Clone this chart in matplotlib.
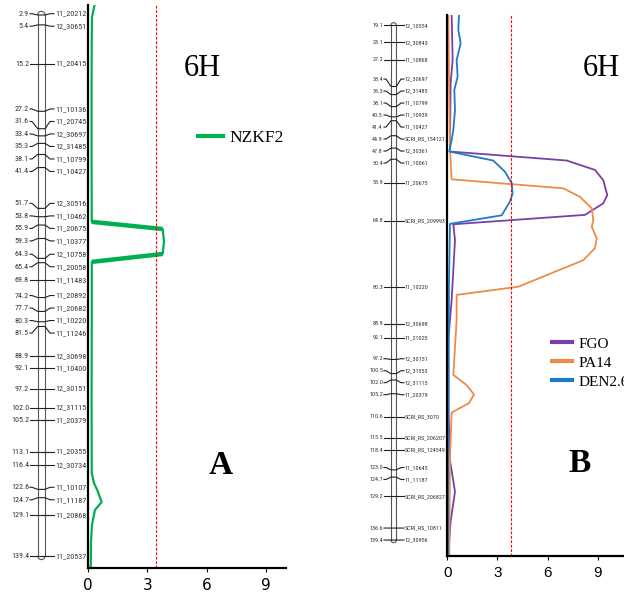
import matplotlib
matplotlib.use('Agg')
import matplotlib.pyplot as plt
from matplotlib.patches import Arc

# ---- panel A data (6H, NZKF2) ----
pos_A = [2.9, 5.4, 15.2, 27.2, 31.6, 33.4, 35.3, 38.1, 41.4, 51.7, 53.8, 55.9, 59.3,
         64.3, 65.4, 69.8, 74.2, 77.7, 80.3, 81.5, 88.9, 92.1, 97.2, 102.0, 105.2,
         113.1, 116.4, 122.6, 124.7, 129.1, 139.4]
names_A = ['11_20212', '12_30651', '11_20415', '11_10136', '11_20745', '12_30697',
           '12_31485', '11_10799', '11_10427', '12_30516', '11_10462', '11_20675',
           '11_10377', '12_10758', '11_20058', '11_11483', '11_20892', '11_20682',
           '11_10220', '11_11246', '12_30698', '11_10400', '12_30151', '12_31115',
           '11_20379', '11_20355', '12_30734', '11_10107', '11_11187', '11_20868',
           '11_20537']
nzkf2_cM = [0.4, 3.5, 8, 20, 40, 55.1, 56.9, 60.1, 63.2, 65.2, 80, 100, 118.5,
            121, 122.8, 125.8, 127.8, 131.6, 136, 142.4]
nzkf2_lod = [0.33, 0.2, 0.19, 0.18, 0.18, 0.19, 3.77, 3.84, 3.77, 0.19, 0.19, 0.18,
             0.19, 0.3, 0.47, 0.69, 0.35, 0.2, 0.15, 0.14]
thr_A = 3.43

# ---- panel B data (6H, FGO / PA14 / DEN2.6) ----
pos_B = [19.1, 23.1, 27.2, 33.4, 35.3, 38.1, 40.5, 41.4, 44.9, 47.8, 50.4, 55.9, 64.8,
         80.3, 88.9, 92.1, 97.2, 100.5, 102.0, 105.2, 110.6, 115.5, 118.4, 123.0,
         124.7, 129.2, 136.6, 139.4]
names_B = ['12_10554', '12_30843', '11_10868', '12_30697', '12_31485', '11_10799',
           '11_10939', '11_10427', 'SCRI_RS_154121', '12_30361', '11_10061', '11_20675',
           'SCRI_RS_209993', '11_10220', '12_30698', '11_21025', '12_30151', '12_31353',
           '12_31115', '11_20379', 'SCRI_RS_3070', 'SCRI_RS_206207', 'SCRI_RS_124549',
           '11_10645', '11_11187', 'SCRI_RS_206827', 'SCRI_RS_10811', '12_30956']
fgo_cM = [16.7, 20, 27.2, 32.6, 40, 47.5, 48.6, 50.7, 52.9, 55.3, 58.8, 60.7, 63.4,
          65.6, 69.3, 76.3, 83.3, 92.6, 110, 120.7, 128.1, 135, 143]
fgo_lod = [0.26, 0.28, 0.32, 0.2, 0.18, 0.16, 0.16, 7.15, 8.84, 9.34, 9.58, 9.34, 8.25,
           0.36, 0.46, 0.36, 0.26, 0.06, 0.08, 0.16, 0.46, 0.2, 0.05]
pa14_cM = [16.7, 30, 47.5, 52.5, 55.1, 57.2, 59.2, 61.9, 64.6, 66.2, 68.9, 71.2, 74.0,
           75.9, 80.2, 82.1, 88, 100.8, 103.2, 105.4, 107.4, 109.6, 120, 143]
pa14_lod = [0.06, 0.1, 0.16, 0.22, 0.26, 6.95, 7.95, 8.65, 8.74, 8.65, 8.95, 8.84, 8.14,
            6.95, 4.25, 0.56, 0.56, 0.36, 1.16, 1.6, 1.3, 0.26, 0.16, 0.12]
den_cM = [16.7, 20.2, 23.3, 27.2, 31.1, 34.2, 38.9, 43.6, 45.9, 48.6, 50.7, 53.3, 56.0,
          58.4, 60.3, 63.5, 65.5, 80, 100, 120, 143]
den_lod = [0.7, 0.66, 0.8, 0.56, 0.62, 0.42, 0.46, 0.36, 0.26, 0.12, 2.75, 3.45, 3.86,
           3.91, 3.75, 3.26, 0.16, 0.1, 0.08, 0.05, 0.05]
thr_B = 3.8

W, H = 624, 596
SERIF = 'Liberation Serif'
NARROW = ['Liberation Sans Narrow', 'Roboto Condensed', 'DejaVu Sans Condensed',
          'Liberation Sans']


def rect(x0, y0, x1, y1):
    return [x0 / W, 1 - y1 / H, (x1 - x0) / W, (y1 - y0) / H]


def spread(pos, gap):
    # push crowded marker labels apart, keeping each group centred
    groups = []
    for p in pos:
        groups.append([p, 1])
        while len(groups) > 1:
            s1, n1 = groups[-2]
            s2, n2 = groups[-1]
            end1 = s1 / n1 + (n1 - 1) / 2 * gap
            start2 = s2 / n2 - (n2 - 1) / 2 * gap
            if start2 - end1 < gap:
                groups[-2:] = [[s1 + s2, n1 + n2]]
            else:
                break
    out = []
    for s, n in groups:
        out += [s / n + (i - (n - 1) / 2) * gap for i in range(n)]
    return out


def draw_map(ax, pos, names, gap, xs, fs, ppcm):
    num_x, sl, bl, br, sr, name_x = xs
    ly = spread(pos, gap)
    w = br - bl
    cx = (bl + br) / 2
    for x in (bl, br):
        ax.plot([x, x], [pos[0], pos[-1]], color='#555555', lw=0.8)
    ax.add_patch(Arc((cx, pos[0]), w, w / ppcm, theta1=180, theta2=360,
                     color='#555555', lw=0.8))
    ax.add_patch(Arc((cx, pos[-1]), w, w / ppcm, theta1=0, theta2=180,
                     color='#555555', lw=0.8))
    for p, l, nm in zip(pos, ly, names):
        ax.plot([num_x + 1, sl, bl, br, sr, name_x - 1], [l, l, p, p, l, l],
                color='#222222', lw=0.8)
        ax.text(num_x, l, f'{p:.1f}', ha='right', va='center', fontsize=fs,
                family=NARROW, stretch='condensed', color='#333333')
        ax.text(name_x, l, nm, ha='left', va='center', fontsize=fs,
                family=NARROW, stretch='condensed', color='#333333')


def style_lod(ax, fs, fam):
    for s in ('top', 'right'):
        ax.spines[s].set_visible(False)
    for s in ('left', 'bottom'):
        ax.spines[s].set_linewidth(1.6)
    ax.set_yticks([])
    ax.set_xticks([0, 3, 6, 9])
    ax.tick_params(axis='x', length=3, width=0.8, pad=4, labelsize=fs)
    for t in ax.get_xticklabels():
        t.set_family(fam)


fig = plt.figure(figsize=(W / 100, H / 100), dpi=100)

# ---------- panel A ----------
ylim_A = (142.44, 0.38)
axA = fig.add_axes(rect(88, 5, 286, 568))
axA.plot(nzkf2_lod, nzkf2_cM, color='#00B050', lw=1.6, label='NZKF2')
# the steep flanks of the peak look heavier in the original
axA.plot(nzkf2_lod[5:7], nzkf2_cM[5:7], color='#00B050', lw=3.2, solid_capstyle='butt')
axA.plot(nzkf2_lod[8:10], nzkf2_cM[8:10], color='#00B050', lw=3.2, solid_capstyle='butt')
axA.axvline(thr_A, color='red', lw=0.8, ls=(0, (2.5, 1.5)))
axA.set_xlim(0, 10)
axA.set_ylim(*ylim_A)
style_lod(axA, 11, 'DejaVu Sans')
leg = axA.legend(loc='center left', bbox_to_anchor=(198 / W, 1 - 138 / H),
                 bbox_transform=fig.transFigure, frameon=False, borderpad=0,
                 borderaxespad=0, handlelength=1.45, handletextpad=0.35,
                 prop={'family': SERIF, 'size': 12.5})
for ln in leg.get_lines():
    ln.set_linewidth(3)

mapA = fig.add_axes(rect(0, 5, 88, 568))
mapA.set_xlim(0, 88)
mapA.set_ylim(*ylim_A)
mapA.axis('off')
ppcm_A = 563 / (ylim_A[0] - ylim_A[1])
draw_map(mapA, pos_A, names_A, 12.5 / ppcm_A, (29, 32, 37.7, 45, 50, 55), 5.8, ppcm_A)

fig.text(202 / W, 1 - 69 / H, '6H', ha='center', va='center', family=SERIF, fontsize=22)
fig.text(221 / W, 1 - 465 / H, 'A', ha='center', va='center', family=SERIF,
         fontsize=24, weight='bold')

# ---------- panel B ----------
ylim_B = (143.13, 16.69)
axB = fig.add_axes(rect(447.3, 15, 447.3 + 16.7 * 12, 556))
axB.plot(fgo_lod, fgo_cM, color='#7B3FA8', lw=1.3, label='FGO')
axB.plot(pa14_lod, pa14_cM, color='#F08A45', lw=1.3, label='PA14')
axB.plot(den_lod, den_cM, color='#1F7BC8', lw=1.3, label='DEN2.6')
axB.axvline(thr_B, color='red', lw=0.8, ls=(0, (2.5, 1.5)))
axB.set_xlim(0, 12)
axB.set_ylim(*ylim_B)
style_lod(axB, 11, 'Liberation Sans')
legB = axB.legend(loc='center left', bbox_to_anchor=(551.7 / W, 1 - 362.7 / H),
                  bbox_transform=fig.transFigure, frameon=False, borderpad=0,
                  borderaxespad=0, handlelength=1.3, handletextpad=0.45,
                  labelspacing=0.35, prop={'family': SERIF, 'size': 11})
for ln in legB.get_lines():
    ln.set_linewidth(3)

mapB = fig.add_axes(rect(330, 15, 447, 556))
mapB.set_xlim(330, 447)
mapB.set_ylim(*ylim_B)
mapB.axis('off')
ppcm_B = 541 / (ylim_B[0] - ylim_B[1])
draw_map(mapB, pos_B, names_B, 12 / ppcm_B, (383, 386, 391, 396.3, 401, 405), 4.4, ppcm_B)

fig.text(601 / W, 1 - 69 / H, '6H', ha='center', va='center', family=SERIF, fontsize=22)
fig.text(580 / W, 1 - 464 / H, 'B', ha='center', va='center', family=SERIF,
         fontsize=24, weight='bold')

fig.savefig('out.png', dpi=100)
